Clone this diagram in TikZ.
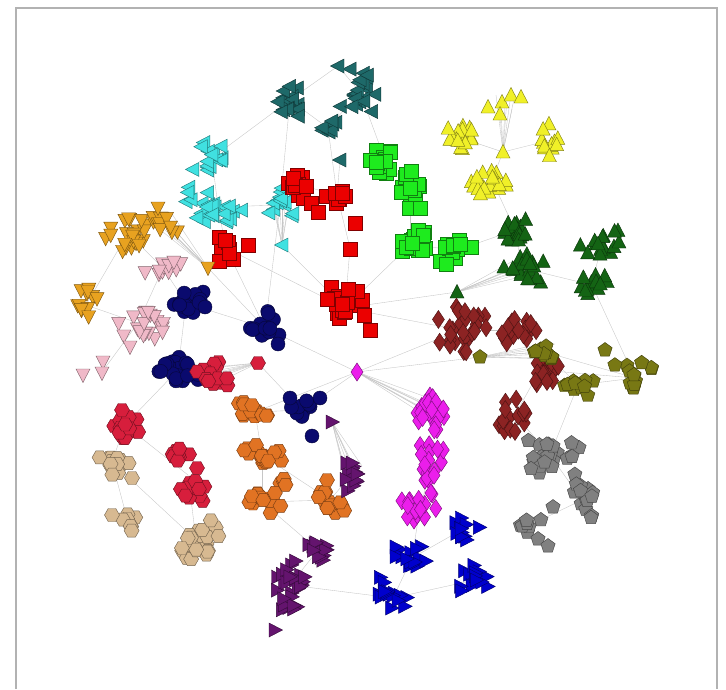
\documentclass[tikz,border=0pt]{standalone}
\definecolor{cTeal}{RGB}{30,105,105}
\definecolor{cCyan}{RGB}{64,225,225}
\definecolor{cRed}{RGB}{235,0,0}
\definecolor{cGreen}{RGB}{30,235,30}
\definecolor{cYel}{RGB}{240,240,40}
\definecolor{cDGreen}{RGB}{20,100,20}
\definecolor{cGold}{RGB}{232,162,32}
\definecolor{cPink}{RGB}{240,185,200}
\definecolor{cNavy}{RGB}{10,10,110}
\definecolor{cCrim}{RGB}{215,30,60}
\definecolor{cOrange}{RGB}{225,115,35}
\definecolor{cTan}{RGB}{215,185,145}
\definecolor{cPurp}{RGB}{100,20,110}
\definecolor{cBlue}{RGB}{0,0,205}
\definecolor{cMag}{RGB}{235,30,235}
\definecolor{cBrown}{RGB}{140,35,35}
\definecolor{cOlive}{RGB}{120,120,20}
\definecolor{cGray}{RGB}{128,128,128}
\newcommand\shL[1]{\path[#1] (\px-7.5,\py)--(\px+6,\py-7)--(\px+6,\py+7)--cycle;}
\newcommand\shR[1]{\path[#1] (\px+7.5,\py)--(\px-6,\py-7)--(\px-6,\py+7)--cycle;}
\newcommand\shU[1]{\path[#1] (\px,\py-7.5)--(\px+7,\py+6)--(\px-7,\py+6)--cycle;}
\newcommand\shD[1]{\path[#1] (\px,\py+7.5)--(\px+7,\py-6)--(\px-7,\py-6)--cycle;}
\newcommand\shS[1]{\path[#1] (\px-7,\py-7) rectangle (\px+7,\py+7);}
\newcommand\shC[1]{\path[#1] (\px,\py) circle[radius=7];}
\newcommand\shH[1]{\path[#1] (\px+7.5,\py)--(\px+3.75,\py+6.5)--(\px-3.75,\py+6.5)--(\px-7.5,\py)--(\px-3.75,\py-6.5)--(\px+3.75,\py-6.5)--cycle;}
\newcommand\shP[1]{\path[#1] (\px,\py-7.5)--(\px+7.13,\py-2.32)--(\px+4.41,\py+6.07)--(\px-4.41,\py+6.07)--(\px-7.13,\py-2.32)--cycle;}
\newcommand\shM[1]{\path[#1] (\px,\py-9)--(\px+6,\py)--(\px,\py+9)--(\px-6,\py)--cycle;}
\newcommand\cluster[7]{%
  \pgfmathtruncatemacro\nn{max(1,round(#5*1.3))}%
  \foreach \k in {1,...,\nn}{%
    \pgfmathsetmacro\px{#1+#3*0.62*(rand+rand)}%
    \pgfmathsetmacro\py{#2+#4*0.62*(rand+rand)}%
    #6{fill=#7,draw=#7!55!black,line width=.45pt}}}
\newcommand\one[4]{\def\px{#1}\def\py{#2}#3{fill=#4,draw=#4!55!black,line width=.45pt}}
\newcommand\fan[2]{\foreach \o in {(-9,-7),(-4,6),(2,-4),(7,7),(10,-8),(0,2),(-6,0),(5,-1)}{\draw[edge] (#1) -- ([shift={\o}]#2);}}
\begin{document}
\begin{tikzpicture}[x=1pt,y=-1pt,edge/.style={draw=gray!45,line width=.35pt}]
\useasboundingbox (0,0) rectangle (726,689);
\fill[white] (0,0) rectangle (726,689);
\draw[gray!60,line width=1.5pt] (16,689) -- (16,8) -- (717,8) -- (717,689);
\pgfmathsetseed{4242}
% coordinates
\coordinate (teA) at (290,100); \coordinate (teB) at (360,92); \coordinate (teC) at (328,128);
\coordinate (teD) at (340,160); \coordinate (teE) at (338,66);
\coordinate (cyA) at (212,158); \coordinate (cyB) at (218,207); \coordinate (cyC) at (280,205); \coordinate (cyS) at (282,245);
\coordinate (reA) at (300,185); \coordinate (reB) at (337,195); \coordinate (reC) at (226,248); \coordinate (reD) at (345,308); \coordinate (reS) at (350,248);
\coordinate (grA) at (385,160); \coordinate (grB) at (410,188); \coordinate (grC) at (410,245); \coordinate (grD) at (458,250);
\coordinate (yeS) at (503,152); \coordinate (yeA) at (461,138); \coordinate (yeB) at (551,140); \coordinate (yeC) at (492,180); \coordinate (yeT) at (505,102);
\coordinate (dgA) at (515,230); \coordinate (dgB) at (522,268); \coordinate (dgS) at (457,292); \coordinate (dgC) at (602,242); \coordinate (dgD) at (592,285);
\coordinate (goA) at (128,233); \coordinate (goB) at (162,222); \coordinate (goS) at (208,268); \coordinate (goC) at (86,305);
\coordinate (piA) at (163,268); \coordinate (piB) at (138,323); \coordinate (piS) at (102,372);
\coordinate (naA) at (186,303); \coordinate (naB) at (265,328); \coordinate (naC) at (178,370); \coordinate (naD) at (302,410);
\coordinate (crA) at (212,375); \coordinate (crS) at (258,363); \coordinate (crB) at (125,425); \coordinate (crC) at (188,475);
\coordinate (orA) at (255,412); \coordinate (orB) at (262,455); \coordinate (orC) at (262,502); \coordinate (orD) at (330,500);
\coordinate (taA) at (112,462); \coordinate (taB) at (128,522); \coordinate (taC) at (196,540);
\coordinate (puS) at (332,422); \coordinate (puA) at (352,474); \coordinate (puB) at (318,550); \coordinate (puC) at (290,585);
\coordinate (blA) at (465,528); \coordinate (blB) at (412,558); \coordinate (blC) at (393,598); \coordinate (blD) at (475,580);
\coordinate (maS) at (357,372); \coordinate (maA) at (430,410); \coordinate (maB) at (432,465); \coordinate (maC) at (420,508);
\coordinate (brA) at (460,330); \coordinate (brB) at (515,330); \coordinate (brC) at (540,370); \coordinate (brD) at (515,415);
\coordinate (olS) at (480,357); \coordinate (olA) at (545,352); \coordinate (olB) at (578,385); \coordinate (olC) at (635,378);
\coordinate (gyA) at (550,455); \coordinate (gyB) at (582,500); \coordinate (gyC) at (530,525);
% edges
\foreach \a/\b in {teA/teE,teE/teB,teA/teC,teC/teB,teA/cyC,teC/reB,teB/grA,teD/reB,
  cyA/cyB,cyB/cyC,cyA/teA,cyB/reC,cyC/reA,cyC/naB,reC/reD,goS/naB,
  reA/reB,reB/reS,reS/reD,reD/grC,reD/brA,dgS/reD,dgS/brA,
  dgB/dgA,dgB/dgD,dgA/yeC,dgC/dgD,yeS/yeA,yeS/yeB,yeS/yeC,
  grA/grB,grB/grC,grC/grD,grD/dgA,
  goA/goB,goA/goC,goA/piA,goC/piB,piA/piB,piB/piS,piA/naA,
  naA/naC,naA/naB,naC/crA,crB/crC,crB/taA,taA/taB,taA/taC,crC/taC,naC/crB,
  naB/maS,naD/orA,naD/maS,orA/orB,orB/orC,orC/orD,orD/puA,orC/puB,
  puB/puC,puC/blC,blB/blC,blA/blB,blC/blD,maC/blB,maA/maB,maB/maC,maS/brA,maS/orA,
  brA/brB,olA/olB,olB/olC,olA/olC,brB/brC,brC/brD,brD/gyA,gyA/gyB,gyB/gyC,olB/gyA,brC/olC,
  reC/naB,cyS/reD,maS/olS,dgD/olC,naD/crS,orB/orD}
  {\draw[edge] (\a) -- (\b);}
\fan{cyS}{cyC}
\fan{goS}{goB}
\fan{dgS}{dgB}
\fan{crS}{crA}
\fan{olS}{olA}
\fan{maS}{maA}
\fan{puS}{puA}
\fan{yeS}{yeT}
% teal
\cluster{290}{100}{14}{18}{12}{\shL}{cTeal}
\cluster{360}{92}{18}{22}{16}{\shL}{cTeal}
\cluster{328}{128}{10}{8}{6}{\shL}{cTeal}
\one{340}{160}{\shL}{cTeal}
\one{338}{66}{\shL}{cTeal}
% cyan
\cluster{212}{158}{18}{14}{12}{\shL}{cCyan}
\cluster{218}{207}{22}{14}{16}{\shL}{cCyan}
\cluster{280}{205}{14}{15}{12}{\shL}{cCyan}
\cluster{186}{196}{6}{8}{3}{\shL}{cCyan}
\one{282}{245}{\shL}{cCyan}
% red
\cluster{300}{185}{14}{16}{12}{\shS}{cRed}
\cluster{337}{195}{10}{12}{7}{\shS}{cRed}
\one{318}{212}{\shS}{cRed}
\one{355}{223}{\shS}{cRed}
\one{350}{249}{\shS}{cRed}
\cluster{226}{248}{12}{14}{10}{\shS}{cRed}
\one{248}{245}{\shS}{cRed}
\cluster{345}{306}{18}{18}{16}{\shS}{cRed}
\one{370}{330}{\shS}{cRed}
% green
\cluster{385}{160}{16}{14}{12}{\shS}{cGreen}
\cluster{410}{188}{12}{22}{14}{\shS}{cGreen}
\cluster{410}{245}{16}{14}{12}{\shS}{cGreen}
\cluster{458}{250}{16}{14}{10}{\shS}{cGreen}
% yellow
\one{488}{107}{\shU}{cYel}
\one{502}{102}{\shU}{cYel}
\one{511}{95}{\shU}{cYel}
\one{521}{97}{\shU}{cYel}
\one{500}{114}{\shU}{cYel}
\one{503}{152}{\shU}{cYel}
\cluster{461}{138}{12}{14}{14}{\shU}{cYel}
\cluster{551}{140}{16}{16}{10}{\shU}{cYel}
\cluster{492}{180}{18}{12}{15}{\shU}{cYel}
% dark green
\cluster{515}{230}{14}{14}{15}{\shU}{cDGreen}
\cluster{522}{268}{18}{14}{15}{\shU}{cDGreen}
\one{457}{292}{\shU}{cDGreen}
\cluster{602}{242}{18}{12}{12}{\shU}{cDGreen}
\cluster{592}{285}{14}{13}{10}{\shU}{cDGreen}
% gold
\cluster{128}{235}{20}{22}{16}{\shD}{cGold}
\cluster{162}{222}{14}{12}{10}{\shD}{cGold}
\one{158}{208}{\shD}{cGold}
\one{208}{268}{\shD}{cGold}
\cluster{86}{305}{12}{18}{10}{\shD}{cGold}
% pink
\cluster{163}{268}{16}{10}{10}{\shD}{cPink}
\cluster{138}{323}{22}{18}{15}{\shD}{cPink}
\one{130}{347}{\shD}{cPink}
\one{103}{362}{\shD}{cPink}
\one{102}{373}{\shD}{cPink}
\one{83}{375}{\shD}{cPink}
% navy
\cluster{186}{303}{18}{12}{15}{\shC}{cNavy}
\one{205}{307}{\shC}{cNavy}
\cluster{265}{328}{15}{14}{12}{\shC}{cNavy}
\one{278}{344}{\shC}{cNavy}
\cluster{178}{370}{18}{14}{18}{\shC}{cNavy}
\cluster{302}{410}{14}{10}{10}{\shC}{cNavy}
\one{320}{398}{\shC}{cNavy}
\one{312}{436}{\shC}{cNavy}
\one{290}{398}{\shC}{cNavy}
% crimson
\cluster{212}{375}{16}{14}{14}{\shH}{cCrim}
\one{258}{363}{\shH}{cCrim}
\cluster{125}{427}{16}{12}{14}{\shH}{cCrim}
\one{122}{410}{\shH}{cCrim}
\cluster{180}{455}{9}{10}{7}{\shH}{cCrim}
\one{197}{468}{\shH}{cCrim}
\cluster{192}{490}{14}{10}{10}{\shH}{cCrim}
% orange
\cluster{255}{412}{18}{10}{12}{\shH}{cOrange}
\cluster{262}{455}{16}{14}{13}{\shH}{cOrange}
\cluster{283}{478}{6}{8}{4}{\shH}{cOrange}
\cluster{262}{502}{16}{10}{12}{\shH}{cOrange}
\cluster{330}{502}{14}{12}{10}{\shH}{cOrange}
\one{327}{480}{\shH}{cOrange}
% tan
\cluster{112}{462}{18}{12}{12}{\shH}{cTan}
\one{132}{478}{\shH}{cTan}
\cluster{130}{522}{9}{10}{5}{\shH}{cTan}
\one{112}{515}{\shH}{cTan}
\cluster{196}{540}{20}{20}{18}{\shH}{cTan}
% purple
\one{332}{422}{\shR}{cPurp}
\cluster{352}{474}{7}{17}{10}{\shR}{cPurp}
\cluster{318}{550}{14}{9}{10}{\shR}{cPurp}
\cluster{290}{580}{16}{16}{16}{\shR}{cPurp}
\cluster{288}{606}{12}{10}{6}{\shR}{cPurp}
\one{275}{630}{\shR}{cPurp}
% blue
\cluster{465}{528}{12}{15}{10}{\shR}{cBlue}
\cluster{412}{558}{16}{16}{12}{\shR}{cBlue}
\cluster{393}{598}{14}{18}{12}{\shR}{cBlue}
\cluster{475}{580}{16}{16}{12}{\shR}{cBlue}
% magenta
\one{357}{372}{\shM}{cMag}
\cluster{430}{410}{18}{20}{15}{\shM}{cMag}
\cluster{432}{465}{14}{20}{12}{\shM}{cMag}
\cluster{420}{508}{16}{18}{12}{\shM}{cMag}
% brown
\cluster{460}{330}{22}{20}{20}{\shM}{cBrown}
\cluster{515}{330}{22}{14}{12}{\shM}{cBrown}
\cluster{540}{370}{16}{16}{15}{\shM}{cBrown}
\cluster{515}{415}{18}{20}{12}{\shM}{cBrown}
% olive
\one{480}{357}{\shP}{cOlive}
\cluster{545}{352}{14}{8}{10}{\shP}{cOlive}
\cluster{578}{385}{16}{10}{8}{\shP}{cOlive}
\one{605}{350}{\shP}{cOlive}
\cluster{635}{378}{20}{20}{10}{\shP}{cOlive}
% gray
\cluster{550}{455}{26}{20}{18}{\shP}{cGray}
\cluster{582}{500}{16}{18}{10}{\shP}{cGray}
\cluster{530}{525}{14}{10}{5}{\shP}{cGray}
\one{538}{539}{\shP}{cGray}
\one{548}{546}{\shP}{cGray}
\one{553}{507}{\shP}{cGray}
\end{tikzpicture}
\end{document}
